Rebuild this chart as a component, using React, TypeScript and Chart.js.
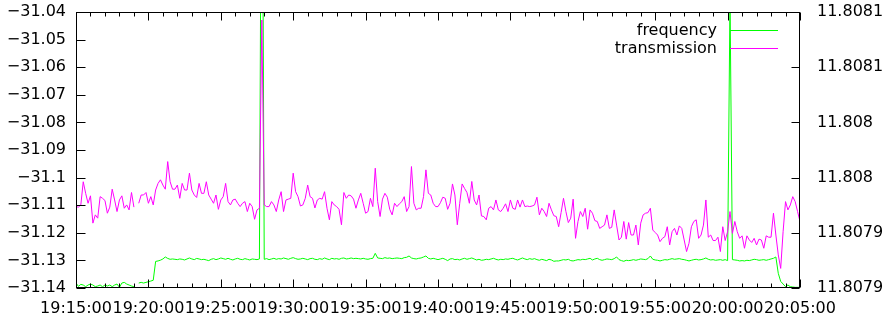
import { useEffect, useRef } from "react";
import { Chart, registerables } from "chart.js";

Chart.register(...registerables);

// Sampling: one reading every 10 s starting at 19:15:00
const SAMPLE_SECONDS = 10;

const xTickSeconds = [0, 300, 600, 900, 1200, 1500, 1800, 2100, 2400, 2700, 3000];
const xTickLabels = [
  "19:15:00", "19:20:00", "19:25:00", "19:30:00", "19:35:00", "19:40:00",
  "19:45:00", "19:50:00", "19:55:00", "20:00:00", "20:05:00",
];

const leftTicks = [-31.14, -31.13, -31.12, -31.11, -31.1, -31.09, -31.08, -31.07, -31.06, -31.05, -31.04];
const leftTickLabels = [
  "\u221231.14", "\u221231.13", "\u221231.12", "\u221231.11", "\u221231.1", "\u221231.09",
  "\u221231.08", "\u221231.07", "\u221231.06", "\u221231.05", "\u221231.04",
];

const rightTicks = [11.80785, 11.8079, 11.80795, 11.808, 11.80805, 11.8081];
const rightTickLabels = ["11.8079", "11.8079", "11.808", "11.808", "11.8081", "11.8081"];

const seriesLabels = ["frequency", "transmission"];
const seriesColors = ["#00ff00", "#ff00ff"];

const frequency = [
  11.8078545, 11.8078515, 11.8078533, 11.8078527, 11.8078512, 11.8078527, 11.8078536, 11.8078527, 11.8078512, 11.8078518,
  11.8078527, 11.8078512, 11.8078527, 11.8078518, 11.8078527, 11.8078512, 11.8078527, 11.8078536, 11.8078506, 11.8078545,
  11.8078551, 11.8078536, 11.8078527, 11.8078518, 11.8078512, null, 11.8078545, 11.8078551, 11.8078545, 11.8078551,
  11.8078557, 11.8078563, 11.807857, 11.8078741, 11.8078745, 11.8078752, 11.8078763, 11.8078781, 11.8078768, 11.807876,
  11.8078763, 11.807876, 11.8078757, 11.8078763, 11.807876, 11.8078754, 11.8078763, 11.8078772, 11.8078763, 11.8078757,
  11.8078768, 11.8078763, 11.8078757, 11.807876, 11.8078754, 11.8078748, 11.807876, 11.8078766, 11.8078757, 11.8078763,
  11.8078772, 11.8078766, 11.807876, 11.8078769, 11.807876, 11.8078754, 11.8078763, 11.8078769, 11.807876, 11.8078757,
  11.8078766, 11.807876, 11.8078754, 11.8078763, 11.807876, 11.8078757, 11.8078763, 11.80836, 11.807876, 11.8078766,
  11.8078757, 11.8078763, 11.8078769, 11.807876, 11.8078766, 11.8078763, 11.8078772, 11.8078766, 11.807876, 11.8078769,
  11.8078775, 11.8078766, 11.807876, 11.8078763, 11.8078769, 11.8078763, 11.8078757, 11.8078766, 11.8078769, 11.807876,
  11.8078757, 11.8078766, 11.807876, 11.8078772, 11.8078763, 11.8078757, 11.8078769, 11.8078763, 11.8078766, 11.807876,
  11.8078769, 11.8078772, 11.8078763, 11.8078766, 11.8078772, 11.8078766, 11.8078769, 11.8078766, 11.8078763, 11.8078769,
  11.8078763, 11.807876, 11.8078766, 11.8078769, 11.8078814, 11.8078772, 11.8078769, 11.8078766, 11.8078775, 11.8078769,
  11.8078772, 11.8078766, 11.8078769, 11.8078772, 11.8078769, 11.8078766, 11.8078775, 11.8078778, 11.807879, 11.8078772,
  11.8078766, 11.8078763, 11.8078769, 11.8078772, 11.8078781, 11.807879, 11.8078769, 11.8078763, 11.8078769, 11.8078763,
  11.8078757, 11.8078763, 11.8078769, 11.807876, 11.8078748, 11.8078763, 11.8078766, 11.8078757, 11.807876, 11.8078754,
  11.8078763, 11.8078769, 11.807876, 11.8078766, 11.8078772, 11.8078763, 11.8078754, 11.807876, 11.8078751, 11.8078754,
  11.807876, 11.8078757, 11.8078763, 11.8078769, 11.807876, 11.8078754, 11.807876, 11.8078757, 11.8078763, 11.807876,
  11.8078766, 11.8078769, 11.807876, 11.8078754, 11.8078763, 11.8078772, 11.8078763, 11.8078757, 11.8078766, 11.807876,
  11.8078766, 11.8078757, 11.8078751, 11.807876, 11.8078754, 11.8078748, 11.807876, 11.8078754, 11.8078742, 11.8078745,
  11.8078745, 11.8078751, 11.8078757, 11.8078754, 11.807876, 11.8078748, 11.8078745, 11.8078751, 11.8078757, 11.8078754,
  11.807876, 11.8078757, 11.8078763, 11.8078769, 11.8078754, 11.8078763, 11.8078769, 11.8078757, 11.8078751, 11.8078757,
  11.8078763, 11.807876, 11.8078757, 11.8078766, 11.8078781, 11.8078757, 11.8078748, 11.8078742, 11.8078751, 11.8078748,
  11.8078751, 11.8078757, 11.8078751, 11.8078757, 11.8078763, 11.807876, 11.8078757, 11.8078766, 11.807879, 11.807876,
  11.8078754, 11.8078751, 11.8078745, 11.8078751, 11.8078757, 11.8078754, 11.807876, 11.8078766, 11.807876, 11.8078763,
  11.8078766, 11.807876, 11.8078757, 11.8078751, 11.8078745, 11.8078751, 11.8078757, 11.807876, 11.8078754, 11.8078757,
  11.8078763, 11.8078772, 11.807876, 11.8078754, 11.8078757, 11.8078751, 11.8078754, 11.8078757, 11.8078751, 11.8078757,
  11.8078748, 11.808112, 11.8078757, 11.8078754, 11.8078751, 11.8078745, 11.8078748, 11.8078745, 11.8078751, 11.8078748,
  11.8078754, 11.807876, 11.8078757, 11.8078751, 11.8078754, 11.8078757, 11.8078751, 11.8078757, 11.8078763, 11.8078769,
  11.8078781, 11.8078633, 11.807856, 11.8078536, 11.8078512, 11.8078527, 11.8078512, 11.8078509, 11.8078506, 11.8078506,
  11.8078506,
];

const transmission = [
  -31.1105, -31.1107, -31.1099, -31.1015, -31.1057, -31.1093, -31.1066, -31.1165, -31.1135, -31.1147,
  -31.1069, -31.1075, -31.1083, -31.1129, -31.1107, -31.1042, -31.1081, -31.1123, -31.1081, -31.1066,
  -31.1111, -31.1099, -31.1117, -31.1054, -31.1107, null, -31.1093, -31.1063, -31.1063, -31.1054,
  -31.1093, -31.1069, -31.1099, -31.1045, -31.1021, -31.1008, -31.1027, -31.1042, -31.0942, -31.1015,
  -31.1042, -31.1042, -31.1027, -31.1075, -31.1021, -31.1045, -31.1045, -31.0984, -31.1045, -31.1063,
  -31.1072, -31.1021, -31.1057, -31.1057, -31.1015, -31.1063, -31.1078, -31.1093, -31.1063, -31.1115,
  -31.1081, -31.1069, -31.1021, -31.1087, -31.1099, -31.1081, -31.1078, -31.1093, -31.1105, -31.1093,
  -31.1087, -31.1123, -31.1093, -31.1105, -31.1151, -31.1117, -31.1111, -31.0429, -31.1099, -31.1105,
  -31.1105, -31.1087, -31.1099, -31.1123, -31.1081, -31.1051, -31.1123, -31.1081, -31.1078, -31.1075,
  -31.0984, -31.1051, -31.1069, -31.1103, -31.1099, -31.1075, -31.1027, -31.1069, -31.1075, -31.111,
  -31.1081, -31.1075, -31.1078, -31.1051, -31.1111, -31.1153, -31.1087, -31.1099, -31.1105, -31.1115,
  -31.1171, -31.1054, -31.1075, -31.1063, -31.1066, -31.1078, -31.1111, -31.1081, -31.1057, -31.1093,
  -31.1129, -31.1123, -31.1075, -31.1105, -31.0966, -31.1087, -31.1141, -31.1078, -31.1057, -31.1071,
  -31.1115, -31.1135, -31.1093, -31.1105, -31.1095, -31.1087, -31.1069, -31.1123, -31.1105, -31.096,
  -31.1093, -31.1117, -31.1111, -31.1111, -31.1069, -31.0972, -31.1057, -31.1063, -31.1093, -31.1105,
  -31.1105, -31.1091, -31.1071, -31.1075, -31.1115, -31.1093, -31.1023, -31.1063, -31.1171, -31.1093,
  -31.1023, -31.1039, -31.1054, -31.1093, -31.1014, -31.1081, -31.1099, -31.1063, -31.1139, -31.1141,
  -31.1153, -31.1111, -31.1105, -31.1117, -31.1081, -31.1117, -31.1123, -31.1111, -31.1095, -31.1123,
  -31.1081, -31.1111, -31.1115, -31.1081, -31.1107, -31.1081, -31.1105, -31.1103, -31.1105, -31.1103,
  -31.1099, -31.1071, -31.1135, -31.1111, -31.1123, -31.1141, -31.1093, -31.1117, -31.1138, -31.1141,
  -31.1178, -31.1127, -31.1075, -31.1123, -31.1163, -31.1147, -31.1078, -31.122, -31.1159, -31.1123,
  -31.1141, -31.1111, -31.1187, -31.1117, -31.1129, -31.1156, -31.1159, -31.1184, -31.1178, -31.1172,
  -31.1135, -31.1184, -31.118, -31.1117, -31.1172, -31.1226, -31.1216, -31.1159, -31.1223, -31.1163,
  -31.1208, -31.1208, -31.1172, -31.1244, -31.1165, -31.1135, -31.1129, -31.1127, -31.1111, -31.119,
  -31.1199, -31.1208, -31.1232, -31.122, -31.1214, -31.1178, -31.1244, -31.1196, -31.1184, -31.1208,
  -31.1175, -31.1184, -31.1226, -31.1268, -31.1238, -31.1178, -31.1159, -31.1153, -31.122, -31.1208,
  -31.1172, -31.1081, -31.1216, -31.1208, -31.1228, -31.1228, -31.1216, -31.1268, -31.1178, -31.1228,
  -31.1196, -31.1123, -31.1202, -31.1159, -31.1196, -31.122, -31.1211, -31.1256, -31.1211, -31.1226,
  -31.1235, -31.122, -31.1244, -31.1223, -31.1226, -31.1256, -31.1211, -31.1216, -31.1216, -31.1129,
  -31.1208, -31.128, -31.1329, -31.1196, -31.1087, -31.1117, -31.1099, -31.1069, -31.1087, -31.1123,
  -31.1159,
];

const FONT = { family: "'DejaVu Sans', sans-serif", size: 16 };

const framePlugin = {
  id: "gnuFrame",
  afterDatasetsDraw(chart: any) {
    const { ctx, chartArea: a, scales } = chart;
    const L = Math.round(a.left) + 0.5;
    const R = Math.round(a.right) - 0.5;
    const T = Math.round(a.top) + 0.5;
    const B = Math.round(a.bottom) - 0.5;
    ctx.save();
    ctx.strokeStyle = "#000";
    ctx.lineWidth = 1;
    ctx.beginPath();
    const xs = scales.x;
    for (let s = xs.min; s <= xs.max + 0.001; s += 60) {
      const px = Math.round(xs.getPixelForValue(s)) + 0.5;
      const len = Math.abs(s % 300) < 0.001 ? 8 : 4;
      ctx.moveTo(px, B);
      ctx.lineTo(px, B - len);
      ctx.moveTo(px, T);
      ctx.lineTo(px, T + len);
    }
    for (const v of leftTicks) {
      const py = Math.round(scales.y.getPixelForValue(v)) + 0.5;
      ctx.moveTo(L, py);
      ctx.lineTo(L + 9, py);
    }
    for (const v of rightTicks) {
      const py = Math.round(scales.y2.getPixelForValue(v)) + 0.5;
      ctx.moveTo(R, py);
      ctx.lineTo(R - 8, py);
    }
    ctx.stroke();
    ctx.strokeRect(L, T, R - L, B - T);

    // key (legend) in the top-right corner
    ctx.font = `${FONT.size}px ${FONT.family}`;
    ctx.textAlign = "right";
    ctx.textBaseline = "middle";
    seriesLabels.forEach((label, i) => {
      const y = Math.round(a.top + 18 + i * 18) + 0.5;
      ctx.fillStyle = "#000";
      ctx.fillText(label, a.right - 83, y);
      ctx.strokeStyle = seriesColors[i];
      ctx.lineWidth = 1;
      ctx.beginPath();
      ctx.moveTo(a.right - 70, y);
      ctx.lineTo(a.right - 22, y);
      ctx.stroke();
    });
    ctx.restore();
  },
};

const zeroVerticalPadding = (s: any, width: number) => {
  s.width = width;
  s.paddingTop = 0;
  s.paddingBottom = 0;
};

export default function App() {
  const ref = useRef<HTMLCanvasElement | null>(null);

  useEffect(() => {
    document.body.style.margin = "0";
    const canvas = ref.current!;
    const chart = new Chart(canvas, {
      type: "line",
      data: {
        datasets: [
          {
            label: seriesLabels[1],
            data: transmission.map((v, i) => ({ x: i * SAMPLE_SECONDS, y: v })),
            borderColor: seriesColors[1],
            borderWidth: 1,
            pointRadius: 0,
            tension: 0,
            yAxisID: "y",
            order: 0,
          } as any,
          {
            label: seriesLabels[0],
            data: frequency.map((v, i) => ({ x: i * SAMPLE_SECONDS, y: v })),
            borderColor: seriesColors[0],
            borderWidth: 1,
            pointRadius: 0,
            tension: 0,
            yAxisID: "y2",
            order: 1,
          } as any,
        ],
      },
      options: {
        animation: false,
        responsive: false,
        devicePixelRatio: 1,
        layout: { padding: { top: 12, left: 0, right: 0, bottom: 0 } },
        plugins: { legend: { display: false }, tooltip: { enabled: false } },
        scales: {
          x: {
            type: "linear",
            min: 0,
            max: 3000,
            afterBuildTicks: (s: any) => {
              s.ticks = xTickSeconds.map((v) => ({ value: v }));
            },
            afterFit: (s: any) => {
              s.height = 29;
              s.paddingLeft = 0;
              s.paddingRight = 0;
            },
            ticks: {
              autoSkip: false,
              maxRotation: 0,
              minRotation: 0,
              padding: 11,
              color: "#000",
              font: FONT,
              callback: (v: any) => xTickLabels[xTickSeconds.indexOf(Number(v))],
            },
            grid: { display: false, drawTicks: false },
            border: { display: false },
          },
          y: {
            type: "linear",
            position: "left",
            min: -31.14,
            max: -31.04,
            afterBuildTicks: (s: any) => {
              s.ticks = leftTicks.map((v) => ({ value: v }));
            },
            afterFit: (s: any) => zeroVerticalPadding(s, 76),
            ticks: {
              padding: 10,
              color: "#000",
              font: FONT,
              callback: (v: any, i: number) => leftTickLabels[i],
            },
            grid: { display: false, drawTicks: false },
            border: { display: false },
          },
          y2: {
            type: "linear",
            position: "right",
            min: 11.80785,
            max: 11.8081,
            afterBuildTicks: (s: any) => {
              s.ticks = rightTicks.map((v) => ({ value: v }));
            },
            afterFit: (s: any) => zeroVerticalPadding(s, 87),
            ticks: {
              padding: 17,
              color: "#000",
              font: FONT,
              callback: (v: any, i: number) => rightTickLabels[i],
            },
            grid: { display: false, drawTicks: false },
            border: { display: false },
          },
        },
      },
      plugins: [framePlugin],
    });
    return () => chart.destroy();
  }, []);

  return (
    <div style={{ position: "absolute", left: 0, top: 0, width: 887, height: 317 }}>
      <canvas ref={ref} width={887} height={317} style={{ display: "block" }} />
    </div>
  );
}
